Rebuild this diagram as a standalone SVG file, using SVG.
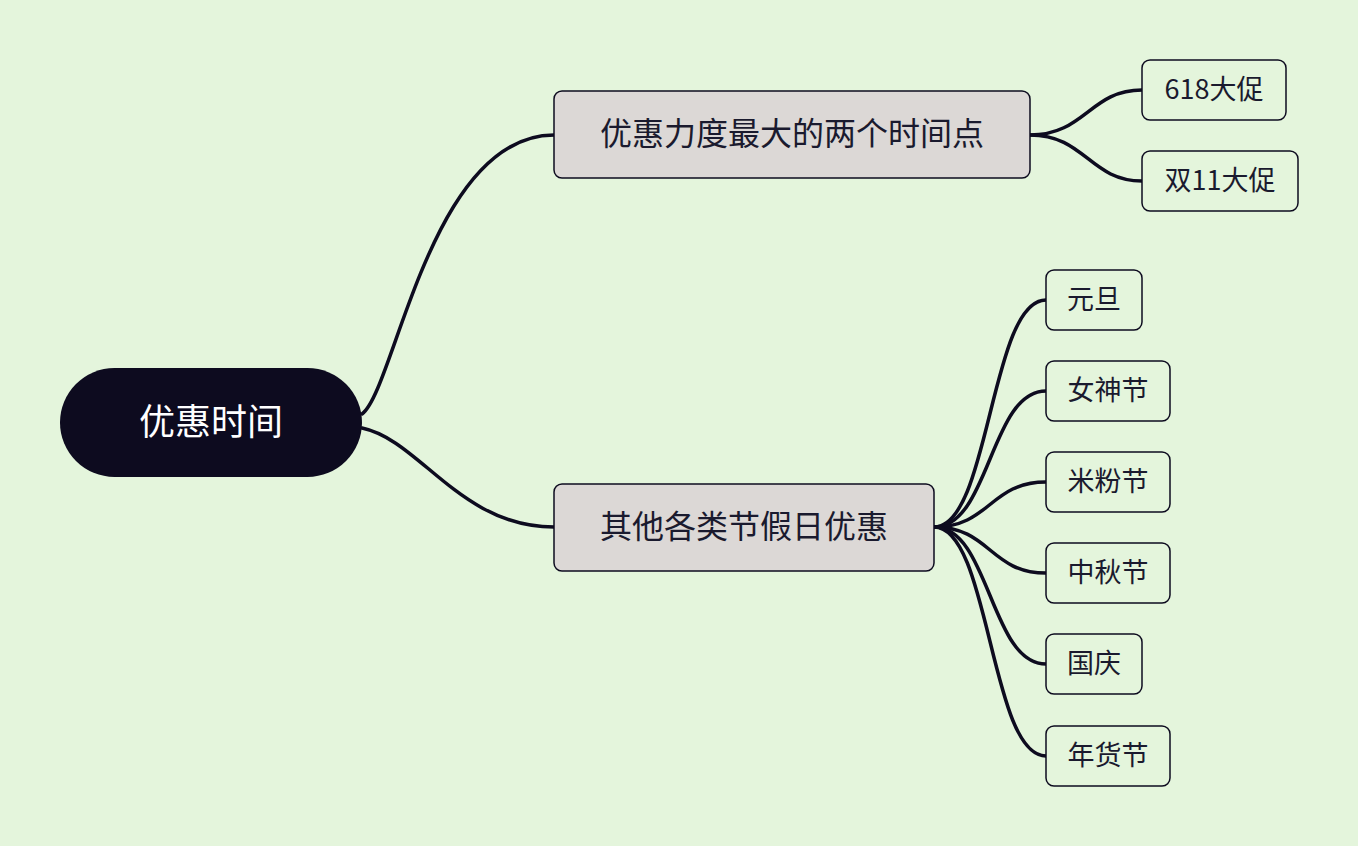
<svg xmlns="http://www.w3.org/2000/svg" width="1358" height="846" viewBox="0 0 1358 846">
<style>
.bg{fill:#e4f5dc}
.conn{fill:none;stroke:#0d0b1f;stroke-width:3.5;stroke-linecap:round}
.br rect{fill:#dcd8d6;stroke:#0d0b1f;stroke-width:1.5}
.lf rect{fill:#e4f5dc;stroke:#0d0b1f;stroke-width:1.5}
text{font-family:"Noto Sans CJK SC","Microsoft YaHei",sans-serif;text-anchor:middle;dominant-baseline:central;fill:#1a1a2e}
.br text{font-size:32px}
.lf text{font-size:27px}
.root text{font-size:36px;fill:#ffffff}
</style>
<rect class="bg" x="0" y="0" width="1358" height="846"/>
<g id="connectors">
<path class="conn" d="M362,414 C395,390 430,135 554,135"/>
<path class="conn" d="M362,428 C420,440 460,527 554,527"/>
<path class="conn" d="M1030,135 C1085,135 1090,90 1142,90"/>
<path class="conn" d="M1030,135 C1085,135 1090,181 1142,181"/>
<path class="conn" d="M934,527 C990,527 990,300 1046,300"/>
<path class="conn" d="M934,527 C990,527 990,391 1046,391"/>
<path class="conn" d="M934,527 C990,527 990,482 1046,482"/>
<path class="conn" d="M934,527 C990,527 990,573 1046,573"/>
<path class="conn" d="M934,527 C990,527 990,664 1046,664"/>
<path class="conn" d="M934,527 C990,527 990,756 1046,756"/>
</g>
<g id="root" class="root">
<rect x="60" y="368" width="302" height="109" rx="54.5" fill="#0d0b1f"/>
<text x="211" y="419">优惠时间</text>
</g>
<g id="b1" class="br">
<rect x="554" y="91" width="476" height="87" rx="8"/>
<text x="792" y="131">优惠力度最大的两个时间点</text>
</g>
<g id="b2" class="br">
<rect x="554" y="484" width="380" height="87" rx="8"/>
<text x="744" y="524">其他各类节假日优惠</text>
</g>
<g id="l618" class="lf">
<rect x="1142" y="60" width="144" height="60" rx="8"/>
<text x="1214" y="87">618大促</text>
</g>
<g id="l11" class="lf">
<rect x="1142" y="151" width="156" height="60" rx="8"/>
<text x="1220" y="178">双11大促</text>
</g>
<g id="lyd" class="lf">
<rect x="1046" y="270" width="96" height="60" rx="8"/>
<text x="1094" y="297">元旦</text>
</g>
<g id="lns" class="lf">
<rect x="1046" y="361" width="124" height="60" rx="8"/>
<text x="1108" y="388">女神节</text>
</g>
<g id="lmf" class="lf">
<rect x="1046" y="452" width="124" height="60" rx="8"/>
<text x="1108" y="479">米粉节</text>
</g>
<g id="lzq" class="lf">
<rect x="1046" y="543" width="124" height="60" rx="8"/>
<text x="1108" y="570">中秋节</text>
</g>
<g id="lgq" class="lf">
<rect x="1046" y="634" width="96" height="60" rx="8"/>
<text x="1094" y="661">国庆</text>
</g>
<g id="lnh" class="lf">
<rect x="1046" y="726" width="124" height="60" rx="8"/>
<text x="1108" y="753">年货节</text>
</g>
</svg>
